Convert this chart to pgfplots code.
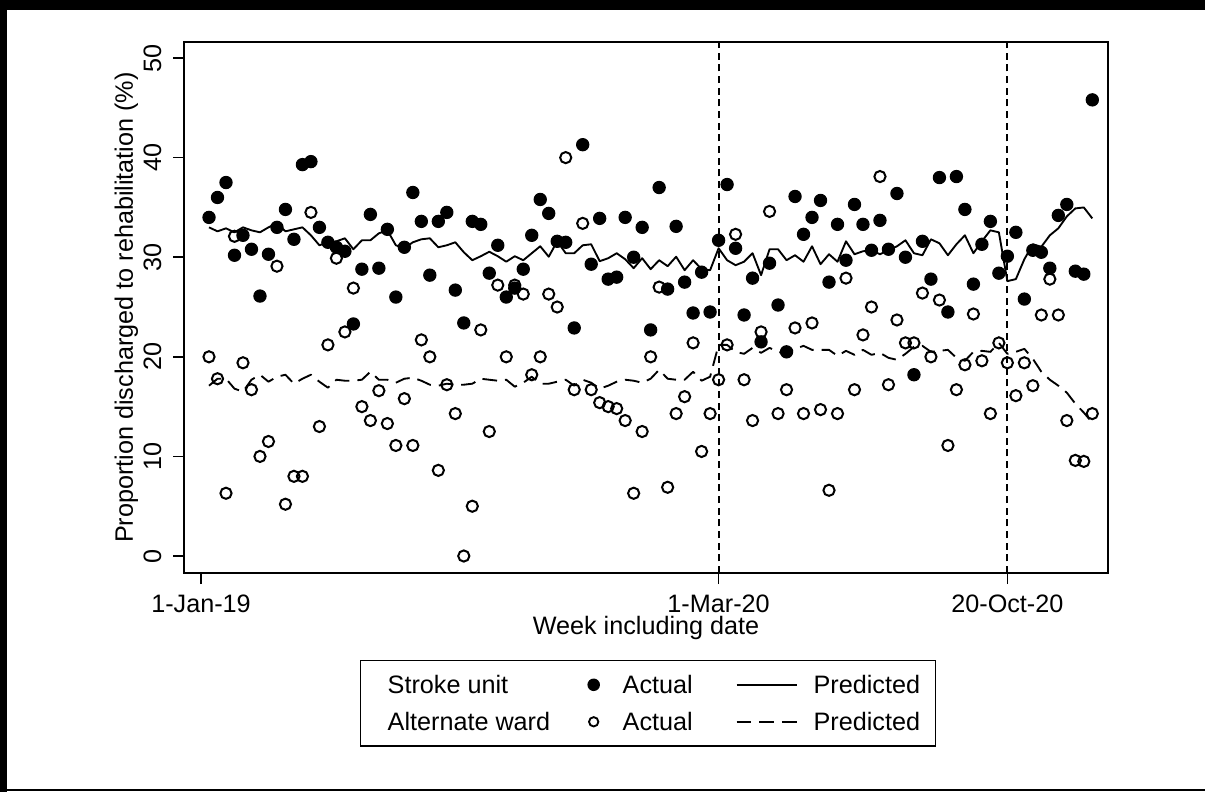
\documentclass[border=0pt]{standalone}
\usepackage{fontspec}
\setmainfont{Liberation Sans}
\usepackage{pgfplots}
\pgfplotsset{compat=1.18}
\usepackage{pgfplotstable}

\newcommand{\chartfont}{\fontsize{18.9pt}{22pt}\selectfont}

% Weekly proportions discharged to rehabilitation (%)
% i = week index; su/aw = actual (stroke unit / alternate ward);
% sup/awp = predicted (stroke unit / alternate ward)
\pgfplotstableread{
i   su    aw    sup    awp
0   34.0  20.0  33.0   17.1
1   36.0  17.8  32.6   17.8
2   37.5  6.3   32.9   17.8
3   30.2  32.1  32.5   16.8
4   32.2  19.4  33.0   16.5
5   30.8  16.7  32.7   17.7
6   26.1  10.0  32.5   18.2
7   30.3  11.5  33.0   17.5
8   33.0  29.1  33.4   18.0
9   34.8  5.2   32.6   18.2
10  31.8  8.0   32.8   17.3
11  39.3  8.0   33.0   17.8
12  39.6  34.5  32.2   18.2
13  33.0  13.0  31.2   17.5
14  31.5  21.2  31.5   16.9
15  31.0  29.9  31.6   17.7
16  30.6  22.5  31.9   17.6
17  23.3  26.9  30.8   17.6
18  28.8  15.0  31.7   17.7
19  34.3  13.6  31.7   18.5
20  28.9  16.6  32.4   17.7
21  32.8  13.3  32.7   17.7
22  26.0  11.1  31.2   17.4
23  31.0  15.8  30.9   17.8
24  36.5  11.1  31.5   17.9
25  33.6  21.7  31.8   17.6
26  28.2  20.0  31.9   17.2
27  33.6  8.6   31.0   17.1
28  34.5  17.2  31.2   17.3
29  26.7  14.3  31.5   17.2
30  23.4  0.0   30.5   17.2
31  33.6  5.0   29.7   17.3
32  33.3  22.7  30.1   17.8
33  28.4  12.5  30.55  17.7
34  31.2  27.2  30.1   17.6
35  26.0  20.0  29.55  17.7
36  26.9  27.2  30.1   17.0
37  28.8  26.3  29.7   17.4
38  32.2  18.2  30.4   18.0
39  35.8  20.0  31.1   17.3
40  34.4  26.3  30.05  17.3
41  31.6  25.0  31.6   17.5
42  31.5  40.0  30.4   17.7
43  22.9  16.7  30.4   17.1
44  41.3  33.4  31.2   17.7
45  29.3  16.7  31.3   17.4
46  33.9  15.4  29.6   16.8
47  27.8  15.0  29.9   17.1
48  28.0  14.8  30.4   17.5
49  34.0  13.6  29.8   17.7
50  30.0  6.3   28.9   17.6
51  33.0  12.5  29.9   17.4
52  22.7  20.0  28.8   17.8
53  37.0  27.0  29.7   18.7
54  26.8  6.9   29.1   17.8
55  33.1  14.3  30.05  17.7
56  27.5  16.0  28.7   17.7
57  24.4  21.4  29.7   18.5
58  28.5  10.5  28.8   17.6
59  24.5  14.3  28.7   18.0
60  31.7  17.7  30.9   21.2
61  37.3  21.2  29.7   21.2
62  30.9  32.3  29.2   20.5
63  24.2  17.7  29.55  20.3
64  27.9  13.6  30.4   20.9
65  21.5  22.5  28.2   20.4
66  29.4  34.6  30.8   20.9
67  25.2  14.3  30.8   20.5
68  20.5  16.7  29.7   20.3
69  36.1  22.9  30.2   20.8
70  32.3  14.3  29.55  21.1
71  34.0  23.4  31.1   20.7
72  35.7  14.7  29.3   20.7
73  27.5  6.6   30.3   20.7
74  33.3  14.3  29.55  20.1
75  29.7  27.9  31.6   20.6
76  35.3  16.7  30.3   20.2
77  33.3  22.2  30.6   20.7
78  30.7  25.0  30.7   20.2
79  33.7  38.1  30.3   20.4
80  30.8  17.2  30.7   19.9
81  36.4  23.7  31.1   19.7
82  30.0  21.4  31.7   20.3
83  18.2  21.4  30.4   21.0
84  31.6  26.4  30.2   21.1
85  27.8  20.0  31.8   20.5
86  38.0  25.7  31.4   20.6
87  24.5  11.1  30.2   20.7
88  38.1  16.7  31.3   19.9
89  34.8  19.2  32.2   19.6
90  27.3  24.3  30.4   20.5
91  31.3  19.6  31.6   20.6
92  33.6  14.3  32.7   20.5
93  28.4  21.4  32.5   21.4
94  30.1  19.4  27.6   20.3
95  32.5  16.1  27.8   20.5
96  25.8  19.4  29.8   20.8
97  30.7  17.1  31.3   19.8
98  30.5  24.2  31.05  18.5
99  28.9  27.8  32.2   17.7
100 34.2  24.2  32.9   17.1
101 35.3  13.6  34.1   16.4
102 28.6  9.6   34.9   15.3
103 28.3  9.5   35.0   14.4
104 45.8  14.3  33.9   13.4
}\weekly

\begin{document}
\begin{tikzpicture}
\path[use as bounding box] (0,0) rectangle (903.75pt,-594pt);
% outer frame
\fill[black] (0,0) rectangle (903.75pt,-7.5pt);
\fill[black] (0,0) rectangle (4.9pt,-594pt);
\fill[black] (0,-592.1pt) rectangle (903.75pt,-593.6pt);

\begin{axis}[
  at={(138pt,-429.75pt)}, anchor=south west,
  scale only axis, width=693pt, height=398.25pt,
  xmin=-2.944, xmax=105.85, ymin=-1.707, ymax=51.61,
  axis line style={line width=1.1pt, black},
  tick pos=left, tick align=outside, major tick length=8.25pt,
  every tick/.style={line width=1.1pt, black},
  xtick={-0.94,60,94}, xticklabels={1-Jan-19,1-Mar-20,20-Oct-20},
  ytick={0,10,20,30,40,50},
  tick label style={font=\chartfont, inner sep=0pt},
  label style={font=\chartfont, inner sep=0pt},
  /pgf/number format/assume math mode=true,
  xticklabel style={anchor=base},
  xticklabel shift=21pt,
  yticklabel style={rotate=90, anchor=base},
  yticklabel shift=9pt,
  xlabel={Week including date},
  xlabel style={at={(axis description cs:0.5,-0.1162)}, anchor=base},
  ylabel={Proportion discharged to rehabilitation (\%)},
  ylabel style={at={(axis description cs:-0.0552,0.5)}, anchor=base},
  legend columns=3,
  legend cell align=left,
  legend style={
    at={(axis description cs:0.1905,-0.1638)}, anchor=north west,
    draw=black, line width=1pt,
    inner xsep=0pt, inner ysep=11.6pt,
    column sep=0pt, row sep=14.75pt,
    font=\chartfont,
    nodes={inner sep=0pt, text height=13pt, text depth=0pt},
  },
]
% reference weeks
\addplot[forget plot, line width=1.4pt, dash pattern=on 5.25pt off 3.5pt]
  coordinates {(60,-1.707) (60,51.61)};
\addplot[forget plot, line width=1.4pt, dash pattern=on 5.25pt off 3.5pt]
  coordinates {(94,-1.707) (94,51.61)};

% actual values
\addplot[forget plot, only marks, mark=*, mark size=4.6pt,
  mark options={fill=black, draw=black, line width=0.8pt}]
  table[x=i, y=su] {\weekly};
\addplot[forget plot, only marks, mark=o, mark size=4.2pt,
  mark options={draw=black, line width=1.5pt}]
  table[x=i, y=aw] {\weekly};

% predicted values
\addplot[forget plot, black, line width=1.4pt, line join=round]
  table[x=i, y=sup] {\weekly};
\addplot[forget plot, black, line width=1.4pt, line join=round,
  dash pattern=on 11pt off 6pt]
  table[x=i, y=awp] {\weekly};

% legend
\addlegendimage{legend image code/.code={\path[draw=none,fill=none] (0pt,0pt) -- (20.25pt,0pt);}}
\addlegendentry{\makebox[143.25pt][l]{Stroke unit}}
\addlegendimage{legend image code/.code={\path[draw=none,fill=none] (0pt,0pt) -- (33pt,0pt);
  \path[draw=none,fill=black] (11.25pt,0pt) circle[radius=4.7pt];}}
\addlegendentry{\makebox[84.75pt][l]{Actual}}
\addlegendimage{legend image code/.code={\path[draw=none,fill=none] (0pt,0pt) -- (57.75pt,0pt);
  \draw[black, line width=1.4pt] (0pt,0pt) -- (45pt,0pt);}}
\addlegendentry{\makebox[91.5pt][l]{Predicted}}
\addlegendimage{legend image code/.code={\path[draw=none,fill=none] (0pt,0pt) -- (20.25pt,0pt);}}
\addlegendentry{\makebox[143.25pt][l]{Alternate ward}}
\addlegendimage{legend image code/.code={\path[draw=none,fill=none] (0pt,0pt) -- (33pt,0pt);
  \draw[black, line width=1.4pt, fill=none] (11.25pt,0pt) circle[radius=3.5pt];}}
\addlegendentry{\makebox[84.75pt][l]{Actual}}
\addlegendimage{legend image code/.code={\path[draw=none,fill=none] (0pt,0pt) -- (57.75pt,0pt);
  \draw[black, line width=1.4pt, dash pattern=on 11pt off 6pt] (0pt,0pt) -- (45pt,0pt);}}
\addlegendentry{\makebox[91.5pt][l]{Predicted}}
\end{axis}
\end{tikzpicture}
\end{document}
